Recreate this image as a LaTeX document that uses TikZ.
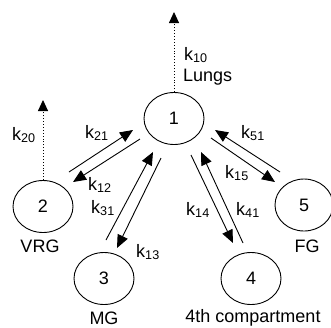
\documentclass[tikz,border=0pt]{standalone}
\usepackage{fontspec}
\setmainfont{Liberation Sans}
\usetikzlibrary{shapes.geometric,arrows.meta,calc}
\begin{document}
\begin{tikzpicture}[x=1pt,y=-1pt,
  comp/.style={ellipse,draw,line width=0.9pt,minimum width=60pt,minimum height=52pt,inner sep=0pt,font=\fontsize{18}{20}\selectfont},
  lab/.style={inner sep=0pt,font=\fontsize{18}{20}\selectfont},
  arr/.style={line width=0.9pt,-{Triangle[length=13pt,width=11pt]}},
  darr/.style={line width=0.9pt,dotted,-{Triangle[length=11pt,width=10pt]}}]
\useasboundingbox (0,0) rectangle (331,327);
\node[comp] (n1) at (174,118.5) {1};
\node[comp] (n2) at (43,206.5) {2};
\node[comp] (n3) at (104,278.5) {3};
\node[comp] (n4) at (251,278.5) {4};
\node[comp,minimum width=58pt] (n5) at (304,205) {5};
\coordinate (t1) at (174,12);
\coordinate (t2) at (43,100);
\draw[darr] (n1.north) -- (t1);
\draw[darr] (n2.north) -- (t2);
% 1-2
\draw[arr] ($(n2)+(26,-34.5)$) -- ($(n1)+(-41,11.5)$);
\draw[arr] ($(n1)+(-34,20.5)$) -- ($(n2)+(30,-24.5)$);
% 1-5
\draw[arr] ($(n5)+(-24,-33)$) -- ($(n1)+(41,11.5)$);
\draw[arr] ($(n1)+(37,19.5)$) -- ($(n5)+(-29,-23)$);
% 1-3
\draw[arr] ($(n3)+(2,-38.5)$) -- ($(n1)+(-21,33.5)$);
\draw[arr] ($(n1)+(-13,39.5)$) -- ($(n3)+(13,-30.5)$);
% 1-4
\draw[arr] ($(n1)+(17,36.5)$) -- ($(n4)+(-18,-35.5)$);
\draw[arr] ($(n4)+(-8,-35.5)$) -- ($(n1)+(27,33.5)$);
% labels
\node[lab,anchor=west] (l10) at (184,55) {k\textsubscript{10}};
\node[lab,anchor=west] (lungs) at (183,77) {Lungs};
\node[lab] (l20) at (24,135) {k\textsubscript{20}};
\node[lab] (l21) at (97,133) {k\textsubscript{21}};
\node[lab] (l12) at (100,185) {k\textsubscript{12}};
\node[lab] (l51) at (253,133) {k\textsubscript{51}};
\node[lab] (l15) at (237,173) {k\textsubscript{15}};
\node[lab] (l31) at (103,208) {k\textsubscript{31}};
\node[lab] (l13) at (148,252) {k\textsubscript{13}};
\node[lab] (l14) at (198,210) {k\textsubscript{14}};
\node[lab] (l41) at (248,210) {k\textsubscript{41}};
\node[lab] (vrg) at (40,246) {VRG};
\node[lab] (mg) at (104,318) {MG};
\node[lab] (fourth) at (253,318) {4th compartment};
\node[lab] (fg) at (307,246) {FG};
\end{tikzpicture}
\end{document}
